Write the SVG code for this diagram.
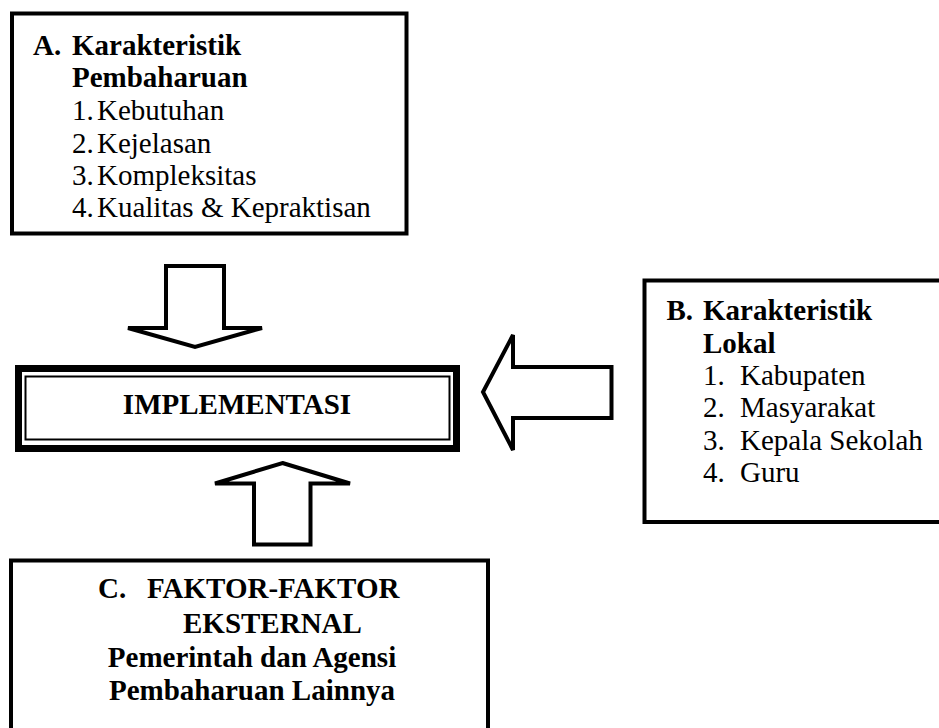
<svg xmlns="http://www.w3.org/2000/svg" width="939" height="728" viewBox="0 0 939 728">
<style>
.box{fill:#fff;stroke:#000;stroke-width:4}
.arr{fill:#fff;stroke:#000;stroke-width:4;stroke-linejoin:miter}
text{font-family:"Liberation Serif","Times New Roman",serif;font-size:29px;fill:#000}
.b{font-weight:bold}
.m{text-anchor:middle}
</style>
<rect width="939" height="728" fill="#fff"/>
<g id="nodeA">
<rect class="box" x="12" y="13.5" width="394.5" height="220"/>
<text class="b" x="33" y="55">A.</text>
<text class="b" x="72" y="55">Karakteristik</text>
<text class="b" x="72" y="87">Pembaharuan</text>
<text x="72" y="119.5">1.</text><text x="97" y="119.5">Kebutuhan</text>
<text x="72" y="152.5">2.</text><text x="97" y="152.5">Kejelasan</text>
<text x="72" y="185">3.</text><text x="97" y="185">Kompleksitas</text>
<text x="72" y="217">4.</text><text x="97" y="217">Kualitas &amp; Kepraktisan</text>
</g>
<g id="nodeImpl">
<rect x="18.5" y="368.5" width="438" height="80" fill="#fff" stroke="#000" stroke-width="7"/>
<rect x="25.5" y="376.5" width="424" height="63" fill="none" stroke="#000" stroke-width="2"/>
<text class="b m" x="237" y="413.5">IMPLEMENTASI</text>
</g>
<g id="nodeB">
<rect class="box" x="644.5" y="280.5" width="300" height="241.5"/>
<text class="b" x="666.5" y="320">B.</text>
<text class="b" x="703" y="320">Karakteristik</text>
<text class="b" x="703" y="352.5">Lokal</text>
<text x="703" y="385">1.</text><text x="740" y="385">Kabupaten</text>
<text x="703" y="417">2.</text><text x="740" y="417">Masyarakat</text>
<text x="703" y="449.5">3.</text><text x="740" y="449.5">Kepala Sekolah</text>
<text x="703" y="482">4.</text><text x="740" y="482">Guru</text>
</g>
<g id="nodeC">
<rect class="box" x="11" y="560.5" width="477" height="180"/>
<text class="b" x="98" y="598">C.</text>
<text class="b" x="147" y="598">FAKTOR-FAKTOR</text>
<text class="b" x="183" y="633">EKSTERNAL</text>
<text class="b m" x="252" y="667">Pemerintah dan Agensi</text>
<text class="b m" x="252" y="700">Pembaharuan Lainnya</text>
</g>
<g id="connectors">
<polygon class="arr" points="166,266 224,266 224,328 262,328 195,347 128,328 166,328"/>
<polygon class="arr" points="513,335 513,367 611.5,367 611.5,418 513,418 513,450 483,392"/>
<polygon class="arr" points="282.5,463 350,483.5 310.5,483.5 310.5,544.5 254,544.5 254,483.5 215,483.5"/>
</g>
</svg>
